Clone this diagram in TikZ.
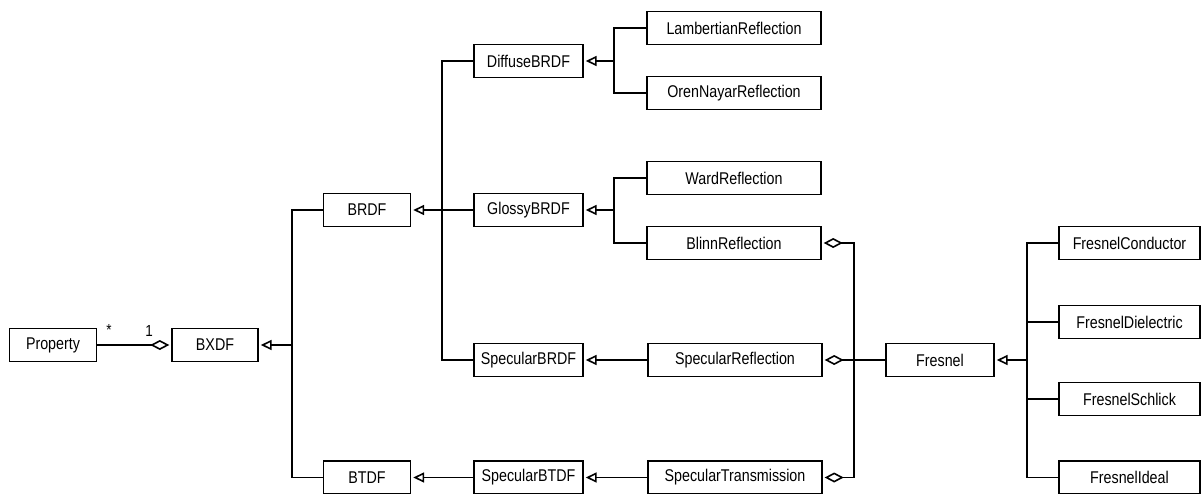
\documentclass[tikz,border=0pt]{standalone}
\usepackage{fontspec}
\setmainfont{Liberation Sans}[FakeStretch=0.84]
\usetikzlibrary{arrows.meta}

\begin{document}
\begin{tikzpicture}[x=1pt, y=-1pt,
  line width=1.4pt,
  cls/.style={draw, inner sep=0pt, minimum height=33pt,
    font=\fontsize{17}{19}\selectfont},
  small/.style={cls, minimum width=87pt},
  mid/.style={cls, minimum width=109pt},
  wide/.style={cls, minimum width=174pt},
  fres/.style={cls, minimum width=141pt},
  inherit/.style={-{Triangle[open, length=11pt, width=10pt, line width=1.6pt]}, shorten >=2pt},
  agg/.style={{Diamond[open, length=19pt, width=10pt, line width=1.6pt]}-, shorten <=2pt},
  mult/.style={font=\fontsize{16}{18}\selectfont, inner sep=0pt}
]
\useasboundingbox (0,0) rectangle (1203,493);

% classes
\node[small] (property) at (53,345) {Property};
\node[small, minimum width=86pt] (bxdf) at (215,345) {BXDF};
\node[small] (brdf) at (367,210) {BRDF};
\node[small] (btdf) at (367,477.5) {BTDF};
\node[mid] (diffuse) at (528.5,61) {DiffuseBRDF};
\node[mid] (glossy) at (528.5,210) {GlossyBRDF};
\node[mid] (specbrdf) at (528.5,360) {SpecularBRDF};
\node[mid] (specbtdf) at (528.5,477.5) {SpecularBTDF};
\node[wide] (lambert) at (734,28) {LambertianReflection};
\node[wide] (oren) at (734,93) {OrenNayarReflection};
\node[wide] (ward) at (734,178) {WardReflection};
\node[wide] (blinn) at (734,243) {BlinnReflection};
\node[wide] (specrefl) at (735,360) {SpecularReflection};
\node[wide] (spectrans) at (735,477.5) {SpecularTransmission};
\node[mid, minimum width=108pt] (fresnel) at (940,360) {Fresnel};
\node[fres] (fcond) at (1129.5,243) {FresnelConductor};
\node[fres] (fdiel) at (1129.5,322) {FresnelDielectric};
\node[fres] (fschlick) at (1129.5,399) {FresnelSchlick};
\node[fres] (fideal) at (1129.5,477.5) {FresnelIdeal};

% junction points of the inheritance trees
\coordinate (jbxdf) at (292,345);
\coordinate (jbrdf) at (442,210);
\coordinate (jdiff) at (614,61);
\coordinate (jglos) at (614,210);
\coordinate (jfres) at (1027,360);
\coordinate (jagg) at (854,360);

% Property -- BXDF aggregation
\draw[agg] (bxdf.west) -- (property.east);
\node[mult] (star) at (109,330) {*};
\node[mult] (one) at (149,331) {1};

% BXDF hierarchy
\draw (brdf.west) -| (jbxdf);
\draw (btdf.west) -| (jbxdf);
\draw[inherit] (jbxdf) -- (bxdf.east);

% BRDF hierarchy
\draw (diffuse.west) -| (jbrdf);
\draw (specbrdf.west) -| (jbrdf);
\draw (glossy.west) -- (jbrdf);
\draw[inherit] (jbrdf) -- (brdf.east);

% DiffuseBRDF hierarchy
\draw (lambert.west) -| (jdiff);
\draw (oren.west) -| (jdiff);
\draw[inherit] (jdiff) -- (diffuse.east);

% GlossyBRDF hierarchy
\draw (ward.west) -| (jglos);
\draw (blinn.west) -| (jglos);
\draw[inherit] (jglos) -- (glossy.east);

% specular chains
\draw[inherit] (specrefl.west) -- (specbrdf.east);
\draw[inherit] (spectrans.west) -- (specbtdf.east);
\draw[inherit] (specbtdf.west) -- (btdf.east);

% Fresnel aggregations
\draw[agg] (blinn.east) -| (jagg);
\draw[agg] (spectrans.east) -| (jagg);
\draw[agg] (specrefl.east) -- (fresnel.west);

% Fresnel hierarchy
\draw (fcond.west) -| (jfres);
\draw (fideal.west) -| (jfres);
\draw (fdiel.west) -| (jfres);
\draw (fschlick.west) -| (jfres);
\draw[inherit] (jfres) -- (fresnel.east);
\end{tikzpicture}
\end{document}
